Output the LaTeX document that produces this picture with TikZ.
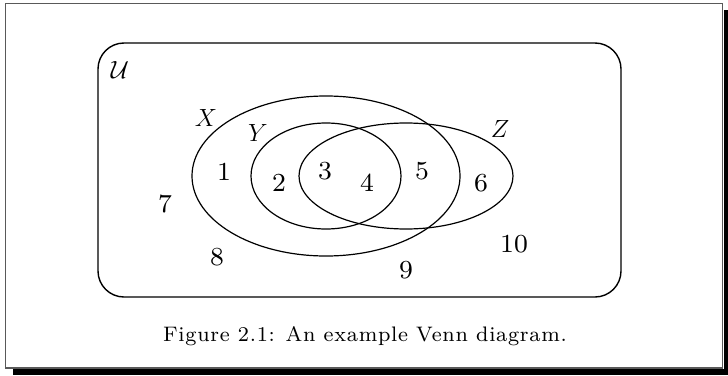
\documentclass[tikz,border=0pt]{standalone}
\usepackage{fontspec}
\newfontfamily\lmeight{lmroman8-regular.otf}
\usetikzlibrary{shapes.geometric}
\begin{document}
\begin{tikzpicture}[x=1pt,y=-1pt,
  setell/.style={draw,ellipse,line width=1.2pt,inner sep=0pt},
  num/.style={inner sep=0pt,font=\lmeight\fontsize{26}{30}\selectfont},
  setlab/.style={inner sep=0pt,font=\fontsize{25}{29}\selectfont}]
\useasboundingbox (0,0) rectangle (728,375);
% page frame with shadow
\fill[black] (13,369) rectangle (728,375);
\fill[black] (723.5,10) rectangle (728,375);
\draw[gray!70!black,line width=1.5pt] (5.5,3.5) rectangle (722.5,368);
% universe
\draw[line width=1.4pt,rounded corners=26pt] (98,43) rectangle (621,297);
\node[setlab] (U) at (120,70) {$\mathcal{U}$};
% sets
\node[setell,minimum width=268pt,minimum height=160pt] (X) at (326,176) {};
\node[setell,minimum width=150pt,minimum height=106pt] (Y) at (326,176) {};
\node[setell,minimum width=214pt,minimum height=106pt] (Z) at (406,176) {};
\node[setlab] (lx) at (206,118) {$X$};
\node[setlab] (ly) at (258,133) {$Y$};
\node[setlab] (lz) at (500,129) {$Z$};
% regions
\node[num] (n1) at (224,172) {1};
\node[num] (n2) at (279,183) {2};
\node[num] (n3) at (325,171) {3};
\node[num] (n4) at (367,183) {4};
\node[num] (n5) at (422,171) {5};
\node[num] (n6) at (481,183) {6};
\node[num] (n7) at (165,204) {7};
\node[num] (n8) at (217,257) {8};
\node[num] (n9) at (406,270) {9};
\node[num] (n10) at (514,244) {10};
% caption
\node[anchor=base,inner sep=0pt,font=\lmeight\fontsize{21}{25}\selectfont\addfontfeatures{LetterSpace=3.5}] (cap) at (365,341) {Figure 2.1: An example Venn diagram.};
\end{tikzpicture}
\end{document}
